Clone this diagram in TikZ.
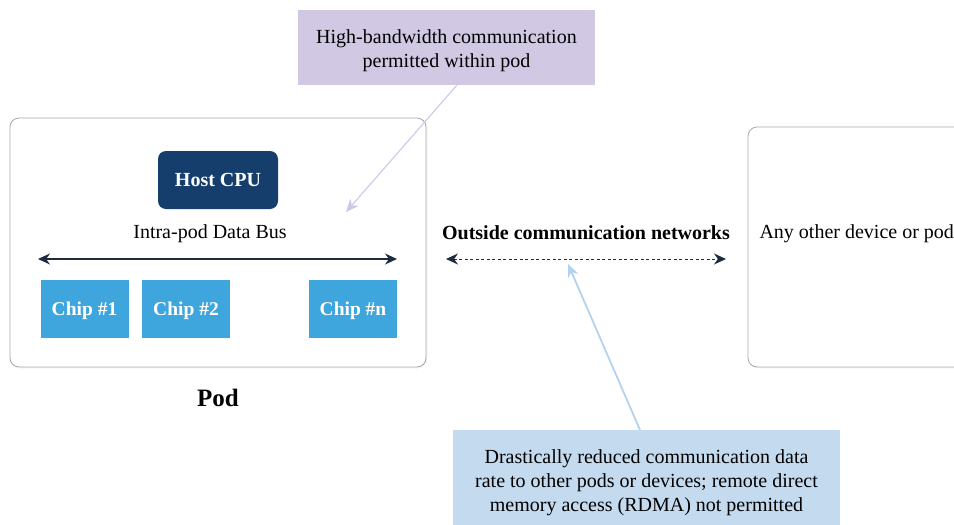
\documentclass[tikz,border=0pt]{standalone}
\usepackage{fontspec}
\setmainfont{Liberation Serif}
\usetikzlibrary{arrows.meta,shadows}
\definecolor{cpublue}{HTML}{163E6C}
\definecolor{chipblue}{HTML}{3FA6DD}
\definecolor{lavender}{HTML}{D1C9E4}
\definecolor{lavline}{HTML}{CFC6E8}
\definecolor{paleblue}{HTML}{C4DAEF}
\definecolor{paleline}{HTML}{B3D2EE}
\definecolor{busdark}{HTML}{1E2B3C}
\definecolor{framegray}{HTML}{A8A8A8}
\tikzset{
  x=1pt,y=-1pt,
  frame/.style={draw=framegray,line width=0.8pt,rounded corners=9pt,fill=white,
    drop shadow={shadow xshift=1.5pt,shadow yshift=-1.5pt,opacity=0.08}},
  chipbox/.style={fill=chipblue,draw=white,line width=0.6pt,text=white,font=\bfseries\fontsize{19.5}{22}\selectfont},
  plain/.style={font=\fontsize{20}{24}\selectfont},
  tips/.style={{Stealth[length=12pt,width=11pt]}-{Stealth[length=12pt,width=11pt]}},
  bus/.style={busdark,line width=1.2pt,tips},
}
\begin{document}
\begin{tikzpicture}
\useasboundingbox (0,0) rectangle (954,525);
% pod frame
\path[frame] (10,118) rectangle (426,367);
% right frame
\path[frame] (748,127) rectangle (975,367);
% host cpu
\node[fill=cpublue,rounded corners=8pt,minimum width=120pt,minimum height=58pt,text=white,
  font=\bfseries\fontsize{20}{24}\selectfont] (cpu) at (218,180) {Host CPU};
\node[plain] (buslbl) at (210,234) {Intra-pod Data Bus};
\coordinate (busL) at (38,259);
\coordinate (busR) at (397,259);
\draw[bus] (busL) -- (busR);
\node[chipbox,minimum width=89pt,minimum height=59pt,text depth=0pt,text height=14pt] (c1) at (84.5,308.5) {Chip \#1};
\node[chipbox,minimum width=89pt,minimum height=59pt,text depth=0pt,text height=14pt] (c2) at (186,308.5) {Chip \#2};
\node[chipbox,minimum width=89pt,minimum height=59pt,text depth=0pt,text height=14pt] (cn) at (353,308.5) {Chip \#n};
\node[font=\bfseries\fontsize{25}{30}\selectfont] (pod) at (218,398) {Pod};
% outside
\node[font=\bfseries\fontsize{20}{24}\selectfont] (out) at (586,233) {Outside communication networks};
\coordinate (oL) at (446,259);
\coordinate (oR) at (726,259);
\draw[busdark,line width=1pt,dash pattern=on 3pt off 2.5pt,tips] (oL) -- (oR);
\node[plain,anchor=west] (any) at (756,234) {Any other device or pod};
% purple callout
\path[fill=lavender] (298,10) rectangle (595,85);
\node[align=center,font=\fontsize{20}{24}\selectfont] (hb) at (446.5,50.5) {High-bandwidth communication\\permitted within pod};
\coordinate (hbtip) at (346,212);
\draw[lavline,line width=1.1pt,-{Stealth[length=13pt,width=11pt]}] (457,85) -- (hbtip);
% blue callout
\path[fill=paleblue] (453,430) rectangle (840,530);
\node[align=center,font=\fontsize{20}{24}\selectfont] (dr) at (646.5,483) {Drastically reduced communication data\\rate to other pods or devices; remote direct\\memory access (RDMA) not permitted};
\coordinate (drtip) at (568,264);
\draw[paleline,line width=1.8pt,-{Stealth[length=13pt,width=11pt]}] (640,430) -- (drtip);
\end{tikzpicture}
\end{document}
